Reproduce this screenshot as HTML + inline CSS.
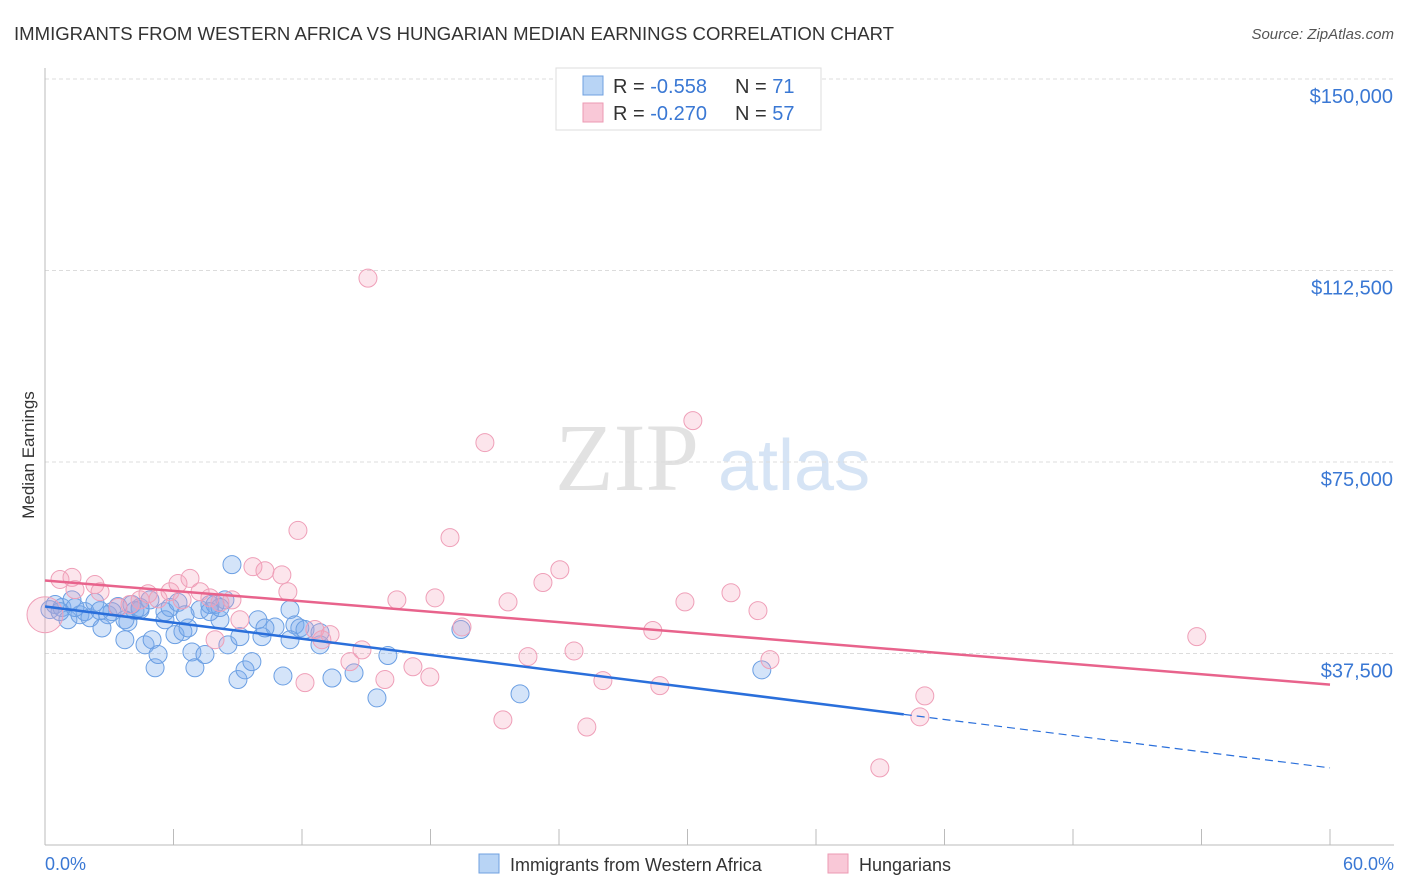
<!DOCTYPE html>
<html><head><meta charset="utf-8"><style>
body{margin:0;background:#fff;font-family:"Liberation Sans",sans-serif;}
svg{display:block}
</style></head><body>
<svg id="chart" width="1406" height="892">
<text x="14" y="40" font-size="18" fill="#333" textLength="880" lengthAdjust="spacingAndGlyphs">IMMIGRANTS FROM WESTERN AFRICA VS HUNGARIAN MEDIAN EARNINGS CORRELATION CHART</text>
<text x="1394" y="39" font-size="15" fill="#555" font-style="italic" text-anchor="end">Source: ZipAtlas.com</text>
<g>
<text x="555" y="490" font-size="96" font-family="Liberation Serif,serif" fill="#e2e2e2">ZIP</text>
<text x="718" y="490" font-size="72" fill="#d6e4f5">atlas</text>
</g>
<g id="grid"></g>
<g id="axes"></g>
<g id="pts"></g>
<g id="lines"></g>
<text transform="translate(34,455) rotate(-90)" font-size="17" fill="#333" text-anchor="middle">Median Earnings</text>
<text x="45" y="870" font-size="18" fill="#3a78d4">0.0%</text>
<text x="1394" y="870" font-size="18" fill="#3a78d4" text-anchor="end">60.0%</text>
<g>
<rect x="556" y="68" width="265" height="62" fill="#fff" stroke="#ddd"/>
<rect x="583" y="76" width="20" height="19" fill="#b8d4f5" stroke="#6fa0e0"/>
<rect x="583" y="103" width="20" height="19" fill="#f9c8d7" stroke="#ec9ab3"/>
<text x="613" y="93" font-size="20" fill="#333">R = <tspan fill="#3a78d4">-0.558</tspan></text>
<text x="735" y="93" font-size="20" fill="#333">N = <tspan fill="#3a78d4">71</tspan></text>
<text x="613" y="120" font-size="20" fill="#333">R = <tspan fill="#3a78d4">-0.270</tspan></text>
<text x="735" y="120" font-size="20" fill="#333">N = <tspan fill="#3a78d4">57</tspan></text>
</g>
<g>
<rect x="479" y="854" width="20" height="19" fill="#b8d4f5" stroke="#6fa0e0"/>
<text x="510" y="871" font-size="18" fill="#333">Immigrants from Western Africa</text>
<rect x="828" y="854" width="20" height="19" fill="#f9c8d7" stroke="#ec9ab3"/>
<text x="859" y="871" font-size="18" fill="#333">Hungarians</text>
</g>
</svg>
<script>
const yTicks=[37500,75000,112500,150000];
const yTickLabels=["$37,500","$75,000","$112,500","$150,000"];
const xTicks=[0,6,12,18,24,30,36,42,48,54,60];
const blueX=[0.23,0.47,0.79,1.07,1.26,1.63,1.87,2.10,2.33,2.66,2.94,3.41,3.73,3.87,4.06,4.44,4.67,4.90,5.0,5.14,5.28,5.60,5.84,6.07,6.21,6.44,6.68,6.86,7.0,7.24,7.47,7.70,7.94,8.17,8.40,8.54,8.73,9.01,9.10,9.34,9.66,9.94,10.13,10.74,11.11,11.44,11.67,11.90,12.14,12.84,13.4,14.43,15.5,16.01,19.42,22.18,33.47,4.20,3.13,0.70,7.70,8.17,6.54,4.44,2.57,10.27,12.84,5.60,1.40,3.73,11.44];
const blueY=[46.1,47.1,46.5,44.1,48.0,45.1,45.7,44.5,47.5,42.5,45.1,46.7,40.2,43.7,47.1,46.1,39.2,48.0,40.2,34.7,37.3,45.7,46.5,41.2,47.5,41.8,42.5,37.8,34.7,46.1,37.3,47.1,47.1,44.1,48.0,39.2,54.9,32.4,40.8,34.3,35.9,44.1,40.8,42.7,33.1,46.1,43.1,42.5,42.2,39.2,32.7,33.7,28.8,37.1,42.2,29.6,34.3,45.9,45.7,45.7,45.7,46.5,45.1,46.5,45.9,42.5,41.6,44.1,46.5,44.1,40.2];
const pinkX=[0,0.70,1.26,2.33,2.57,3.41,4.44,4.81,5.28,5.84,6.21,6.40,6.77,7.24,7.70,7.94,8.17,8.73,9.10,9.71,10.27,11.06,11.34,11.81,12.14,12.6,12.93,13.31,14.24,14.8,15.08,15.87,16.43,17.18,17.97,18.21,18.91,19.47,20.54,21.38,21.62,22.55,23.25,24.04,24.7,25.3,26.05,28.38,28.71,29.88,30.25,32.03,33.29,33.85,38.98,40.85,41.08,53.78,1.40,3.97];
const pinkY=[45.1,52.0,52.4,51.0,49.6,46.5,48.0,49.2,48.2,49.6,51.2,48.0,52.2,49.6,48.4,40.2,47.5,48.0,44.1,54.5,53.7,52.9,49.6,61.6,31.8,42.2,40.2,41.2,35.9,38.2,111.0,32.4,48.0,34.9,32.9,48.4,60.2,42.7,78.8,24.5,47.6,36.9,51.4,53.9,38.0,23.1,32.2,42.0,31.2,47.6,83.1,49.4,45.9,36.3,15.1,25.1,29.2,40.8,50.0,47.1];
const blueTrend=[46.7,15.1];
const blueSolidEnd=40.1;
const pinkTrend=[51.8,31.4];
const NS="http://www.w3.org/2000/svg";
const X0=45,X1=1330,Y0=845,YTOP=79;
function sx(p){return X0+(X1-X0)*p/60;}
function sy(v){return Y0-(Y0-YTOP)*v/150000;}
function mk(tag,attrs,parent){const e=document.createElementNS(NS,tag);for(const k in attrs)e.setAttribute(k,attrs[k]);parent.appendChild(e);return e;}
const grid=document.getElementById('grid'),axes=document.getElementById('axes'),pts=document.getElementById('pts'),lines=document.getElementById('lines');
yTicks.forEach((t,i)=>{
 const l=mk('line',{x1:X0,x2:1394,y1:sy(t),y2:sy(t),stroke:'#dcdcdc','stroke-dasharray':'4,3'},grid);
 
 
 const tx=mk('text',{x:1393,y:sy(t)+24,'font-size':20,fill:'#3a78d4','text-anchor':'end'},axes);
 tx.textContent=yTickLabels[i];
 
 
});
const ax=mk('line',{x1:X0,x2:X0,y1:68,y2:Y0,stroke:'#bbb'},axes);


const bx=mk('line',{x1:X0,x2:1394,y1:Y0,y2:Y0,stroke:'#bbb'},axes);


xTicks.forEach(t=>{
 const l=mk('line',{x1:sx(t),x2:sx(t),y1:Y0,y2:Y0-16,stroke:'#bbb'},axes);
 
 
});
blueX.forEach((x,i)=>{
 const c=mk('circle',{cx:sx(x),cy:sy(blueY[i]*1000),r:9,fill:'rgba(120,170,235,0.32)',stroke:'#6b9fe3','stroke-width':1},pts);
 
 
});
pinkX.forEach((x,i)=>{
 const c=mk('circle',{cx:sx(x),cy:sy(pinkY[i]*1000),r:i==0?18:9,fill:'rgba(245,160,185,0.28)',stroke:'#ef9fb8','stroke-width':1},pts);
 
 
});
function by(p){return blueTrend[0]+(blueTrend[1]-blueTrend[0])*p/60;}
const b1=mk('line',{x1:sx(0),y1:sy(by(0)*1000),x2:sx(blueSolidEnd),y2:sy(by(blueSolidEnd)*1000),stroke:'#2a6fdb','stroke-width':2.5},lines);


const b2=mk('line',{x1:sx(blueSolidEnd),y1:sy(by(blueSolidEnd)*1000),x2:sx(60),y2:sy(by(60)*1000),stroke:'#2a6fdb','stroke-width':1.2,'stroke-dasharray':'8,5'},lines);


const p1=mk('line',{x1:sx(0),y1:sy(pinkTrend[0]*1000),x2:sx(60),y2:sy(pinkTrend[1]*1000),stroke:'#e8638c','stroke-width':2.5},lines);


</script>
</body></html>
